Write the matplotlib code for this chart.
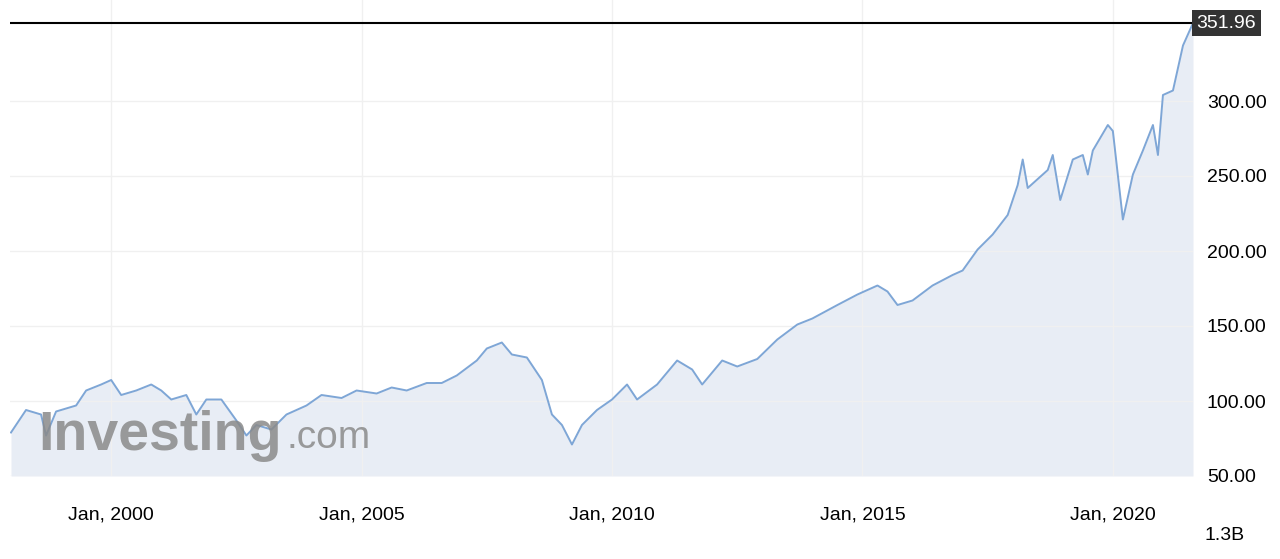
import matplotlib
matplotlib.use("Agg")
import matplotlib.pyplot as plt

years = [1998.0,1998.3,1998.6,1998.7,1998.9,1999.3,1999.5,1999.8,2000.0,2000.2,2000.5,2000.8,2001.0,2001.2,2001.5,2001.7,2001.9,2002.2,2002.5,2002.7,2002.9,2003.2,2003.5,2003.9,2004.2,2004.6,2004.9,2005.3,2005.6,2005.9,2006.3,2006.6,2006.9,2007.3,2007.5,2007.8,2008.0,2008.3,2008.6,2008.8,2009.0,2009.2,2009.4,2009.7,2010.0,2010.3,2010.5,2010.9,2011.3,2011.6,2011.8,2012.2,2012.5,2012.9,2013.3,2013.7,2014.0,2014.5,2014.9,2015.3,2015.5,2015.7,2016.0,2016.4,2016.8,2017.0,2017.3,2017.6,2017.9,2018.1,2018.2,2018.3,2018.7,2018.8,2018.95,2019.2,2019.4,2019.5,2019.6,2019.9,2020.0,2020.2,2020.4,2020.6,2020.8,2020.9,2021.0,2021.2,2021.4,2021.6]
prices = [79,94,91,77,93,97,107,111,114,104,107,111,107,101,104,91,101,101,87,77,84,81,91,97,104,102,107,105,109,107,112,112,117,127,135,139,131,129,114,91,84,71,84,94,101,111,101,111,127,121,111,127,123,128,141,151,155,164,171,177,173,164,167,177,184,187,201,211,224,244,261,242,254,264,234,261,264,251,267,284,280,221,251,267,284,264,304,307,337,351.96]
last = 351.96
tick_years = [2000, 2005, 2010, 2015, 2020]
tick_labels = ["Jan, 2000", "Jan, 2005", "Jan, 2010", "Jan, 2015", "Jan, 2020"]
yticks = [50, 100, 150, 200, 250, 300]

plt.rcParams['font.family'] = ['Liberation Sans', 'DejaVu Sans']
fig = plt.figure(figsize=(12.8, 5.59), dpi=100)
ax = fig.add_axes([10/1280, 1-476/559, 1183/1280, 476/559])
ax.fill_between(years, prices, 50, color="#e8edf5", lw=0)
ax.plot(years, prices, color="#7ea6d6", lw=1.4)
ax.axhline(last, color="black", lw=1.5)
ax.set_xlim(1997.98, 2021.6)
ax.set_ylim(50, 50+476/1.5)
ax.set_xticks(tick_years)
ax.set_xticklabels(tick_labels, fontsize=14)
ax.set_yticks(yticks)
ax.set_yticklabels([f"{v:.2f}" for v in yticks], fontsize=14)
ax.yaxis.tick_right()
ax.tick_params(length=0, pad=10)
ax.tick_params(axis="x", pad=22)
ax.grid(True, color="#f0f0f0", lw=1)
for s in ax.spines.values():
    s.set_visible(False)
ax.text(1.003, last, f"{last:.2f}", transform=ax.get_yaxis_transform(), va="center", ha="left",
        fontsize=14, color="white", bbox=dict(boxstyle="square,pad=0.25", fc="#333333", ec="none"))
fig.text(38/1280, 1-436/559, "Investing", fontsize=40, fontweight="bold", color="#8a8a8a", alpha=0.85, va="center")
fig.text(286/1280, 1-438/559, ".com", fontsize=28, color="#8a8a8a", alpha=0.85, va="center")
fig.text(1205/1280, 1-535/559, "1.3B", fontsize=14, va="center")
fig.savefig("out.png", dpi=100)
